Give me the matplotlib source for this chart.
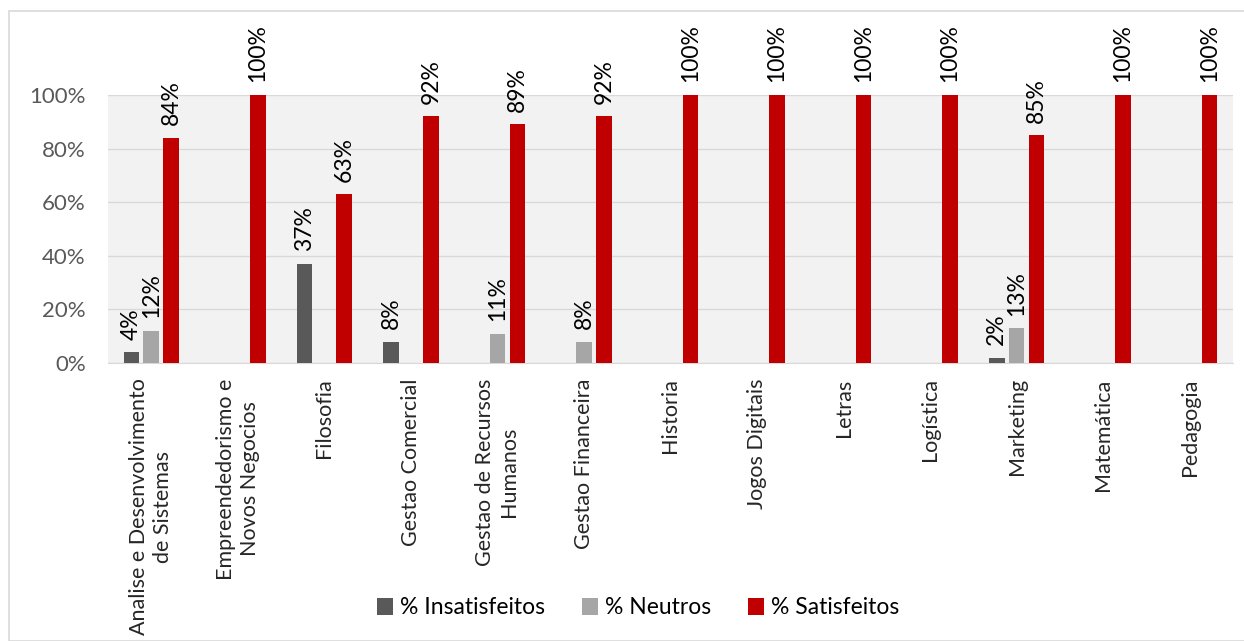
import numpy as np
import matplotlib.pyplot as plt
from matplotlib.patches import Rectangle
from matplotlib.ticker import PercentFormatter

plt.rcParams['font.family'] = ['Lato', 'DejaVu Sans']

cursos = ['Analise e Desenvolvimento\nde Sistemas', 'Empreendedorismo e\nNovos Negocios',
          'Filosofia', 'Gestao Comercial', 'Gestao de Recursos\nHumanos', 'Gestao Financeira',
          'Historia', 'Jogos Digitais', 'Letras', 'Logística', 'Marketing', 'Matemática',
          'Pedagogia']
insatisfeitos = [4, 0, 37, 8, 0, 0, 0, 0, 0, 0, 2, 0, 0]
neutros = [12, 0, 0, 0, 11, 8, 0, 0, 0, 0, 13, 0, 0]
satisfeitos = [84, 100, 63, 92, 89, 92, 100, 100, 100, 100, 85, 100, 100]

series = [('% Insatisfeitos', insatisfeitos, '#595959'),
          ('% Neutros', neutros, '#A6A6A6'),
          ('% Satisfeitos', satisfeitos, '#C00000')]

fig = plt.figure(figsize=(12.44, 6.41), dpi=100)
ax = fig.add_axes([108 / 1244, 1 - 363 / 641, 1125 / 1244, 268 / 641])
ax.set_facecolor('#F2F2F2')

# moldura cinza clara em volta do gráfico
fig.patches.append(Rectangle((9 / 1244, 0), 1.0, 1 - 11 / 641, transform=fig.transFigure,
                             fill=False, edgecolor='#D9D9D9', linewidth=1.2))

x = np.arange(len(cursos))
offsets = [-0.23, 0, 0.23]
for (nome, vals, cor), off in zip(series, offsets):
    bars = ax.bar(x + off, vals, width=0.18, color=cor, label=nome, zorder=3)
    for b, v in zip(bars, vals):
        if v > 0:
            ax.annotate(f'{v}%', (b.get_x() + b.get_width() / 2, v), xytext=(0, 9),
                        textcoords='offset points', rotation=90, ha='center', va='bottom',
                        fontsize=16.5, color='black', annotation_clip=False)

ax.set_xlim(-0.5, len(cursos) - 0.5)
ax.set_ylim(0, 100)
ax.set_yticks(range(0, 101, 20))
ax.yaxis.set_major_formatter(PercentFormatter(decimals=0))
ax.grid(axis='y', color='#D9D9D9', linewidth=1, zorder=0)
for s in ['top', 'right', 'left']:
    ax.spines[s].set_visible(False)
ax.spines['bottom'].set_color('#D9D9D9')
ax.tick_params(axis='y', length=0, labelsize=16, labelcolor='#595959', pad=16)
ax.tick_params(axis='x', length=0, pad=11)
ax.set_xticks(x)
ax.set_xticklabels(cursos, rotation=90, ha='center', va='top', multialignment='center',
                   fontsize=15.5, color='#262626', linespacing=1.25)

fig.legend(loc='center', bbox_to_anchor=(0.513, 1 - 608 / 641), ncol=3, frameon=False,
           fontsize=16.5, handlelength=0.7, handleheight=0.7, handletextpad=0.3,
           columnspacing=1.6)

fig.savefig('out.png', dpi=100)
